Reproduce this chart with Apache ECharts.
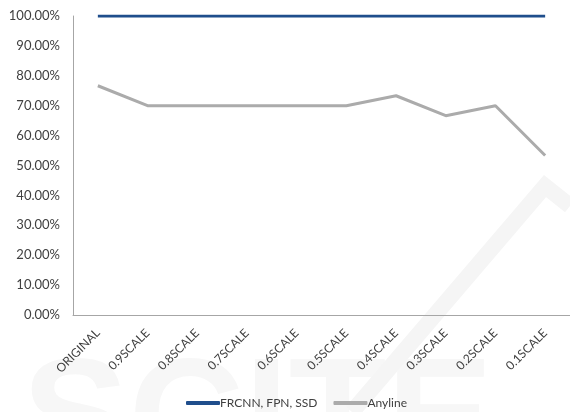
<!DOCTYPE html>
<html>
<head>
<meta charset="utf-8">
<script src="https://cdn.jsdelivr.net/npm/echarts@6/dist/echarts.min.js"></script>
<style>
  html, body { margin: 0; padding: 0; background: #fff; }
  #chart { width: 570px; height: 412px; }
</style>
</head>
<body>
<div id="chart"></div>
<script>
const categories = ['ORIGINAL', '0.9SCALE', '0.8SCALE', '0.7SCALE', '0.6SCALE', '0.5SCALE', '0.4SCALE', '0.3SCALE', '0.2SCALE', '0.1SCALE'];
const frcnnValues = [100, 100, 100, 100, 100, 100, 100, 100, 100, 100];
const anylineValues = [76.67, 70, 70, 70, 70, 70, 73.33, 66.67, 70, 53.33];
const seriesNames = ['FRCNN, FPN, SSD', 'Anyline'];

const font = 'Lato, "Open Sans", sans-serif';
const chart = echarts.init(document.getElementById('chart'), null, { renderer: 'canvas' });

chart.setOption({
  animation: false,
  backgroundColor: '#fff',
  graphic: [
    // faint publisher watermark behind the chart
    { type: 'text', left: 22, top: 345, z: -10, silent: true,
      style: { text: 'SCITE', font: 'bold 160px "Liberation Sans", sans-serif', fill: '#f7f7f7' } },
    { type: 'polyline', z: -10, silent: true,
      shape: { points: [[352, 412], [545, 186], [570, 206]] },
      style: { stroke: '#f5f5f5', lineWidth: 16, fill: null } }
  ],
  grid: { left: 73, top: 16, width: 497, height: 299, containLabel: false },
  legend: {
    bottom: 3,
    left: 186,
    padding: 0,
    icon: 'roundRect',
    itemWidth: 34,
    itemHeight: 4,
    itemGap: 16,
    textStyle: { fontFamily: font, fontSize: 12, color: '#404040', padding: [0, 0, 0, -5] },
    data: seriesNames
  },
  xAxis: {
    type: 'category',
    data: categories,
    boundaryGap: true,
    axisLine: { lineStyle: { color: '#a6a6a6', width: 1 } },
    axisTick: { show: false },
    axisLabel: { rotate: 45, interval: 0, margin: 16, fontFamily: font, fontSize: 12, color: '#404040' }
  },
  yAxis: {
    type: 'value',
    min: 0,
    max: 100,
    interval: 10,
    axisLine: { show: true, lineStyle: { color: '#a6a6a6', width: 1 } },
    axisTick: { show: false },
    splitLine: { show: false },
    axisLabel: {
      margin: 13,
      fontFamily: font,
      fontSize: 13,
      color: '#404040',
      formatter: v => v.toFixed(2) + '%'
    }
  },
  series: [
    {
      name: seriesNames[0],
      type: 'line',
      data: frcnnValues,
      symbol: 'none',
      lineStyle: { color: '#1f4e8c', width: 3 },
      itemStyle: { color: '#1f4e8c' },
      z: 3
    },
    {
      name: seriesNames[1],
      type: 'line',
      data: anylineValues,
      symbol: 'none',
      lineStyle: { color: '#ababab', width: 3 },
      itemStyle: { color: '#ababab' },
      z: 2
    }
  ]
});
</script>
</body>
</html>
